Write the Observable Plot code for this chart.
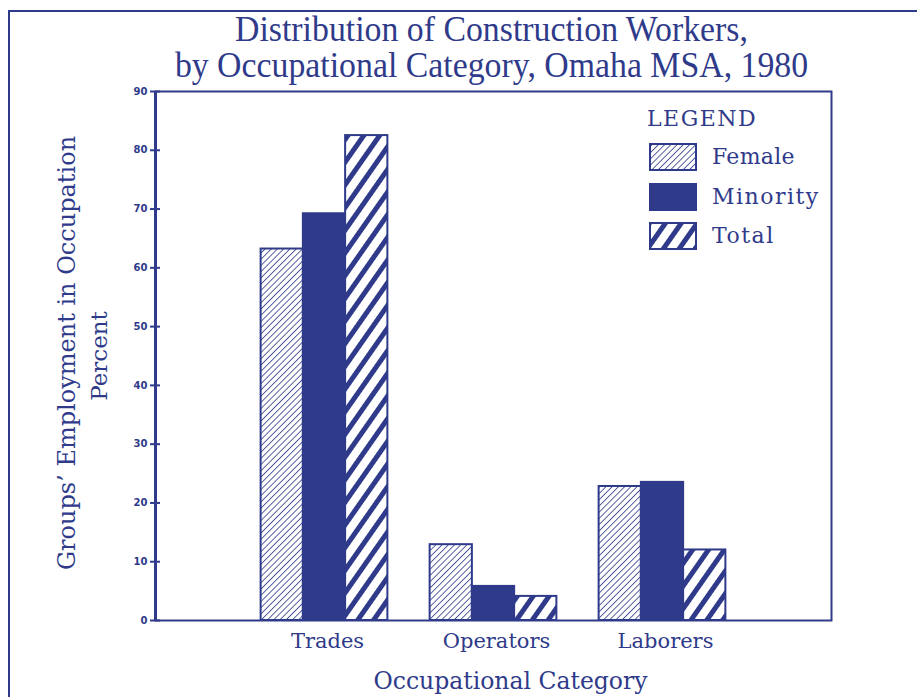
<!DOCTYPE html>
<html><head><meta charset="utf-8">
<script src="https://cdn.jsdelivr.net/npm/d3@7"></script>
<script src="https://cdn.jsdelivr.net/npm/@observablehq/plot@0.6"></script>
<style>
html,body{margin:0;padding:0;background:#fff;}
#page{position:relative;width:917px;height:697px;overflow:hidden;font-family:"DejaVu Serif",serif;color:#2f3b8a;}
#border{position:absolute;left:8px;top:10px;width:940px;height:720px;border-left:2px solid #2f3b8a;border-top:2px solid #2f3b8a;}
.title{position:absolute;left:33px;top:12px;width:917px;text-align:center;font-family:"Liberation Serif",serif;font-size:33.8px;line-height:35px;white-space:nowrap;transform:scaleY(1.05);}
#chart{position:absolute;left:0;top:84px;}
#legend{position:absolute;left:0;top:0;}
.lg{position:absolute;white-space:nowrap;font-size:22px;line-height:24px;letter-spacing:1.5px;}
.sw{position:absolute;}
#defs{position:absolute;width:0;height:0;}
</style></head>
<body>
<div id="page">
<svg id="defs" width="0" height="0">
 <defs>
  <pattern id="hatchFemale" patternUnits="userSpaceOnUse" width="4.4" height="4.4" patternTransform="rotate(45)">
   <rect width="4.4" height="4.4" fill="#fff"/>
   <line x1="0" y1="0" x2="0" y2="4.4" stroke="#2f3b8a" stroke-width="1.6"/>
  </pattern>
  <pattern id="hatchTotal" patternUnits="userSpaceOnUse" width="13" height="13" patternTransform="rotate(35)">
   <rect width="13" height="13" fill="#fff"/>
   <line x1="2.5" y1="0" x2="2.5" y2="13" stroke="#2f3b8a" stroke-width="5"/>
  </pattern>
 </defs>
</svg>
<div id="border"></div>
<div class="title">Distribution of Construction Workers,<br>by Occupational Category, Omaha MSA, 1980</div>
<div id="chart"></div>
<div id="legend"></div>
</div>
<script>
const NAVY = "#2f3b8a";
const categories = ["Trades", "Operators", "Laborers"];
const seriesNames = ["Female", "Minority", "Total"];
const female = [63.2, 12.9, 22.8];
const minority = [69.2, 5.8, 23.5];
const total = [82.5, 4.1, 12.0];
const yTicks = [0, 10, 20, 30, 40, 50, 60, 70, 80, 90];
const fills = {Female: "url(#hatchFemale)", Minority: NAVY, Total: "url(#hatchTotal)"};

const seriesValues = [female, minority, total];
const rows = [];
categories.forEach((c, i) => {
  seriesValues.forEach((arr, s) => {
    rows.push({category: c, ci: i + 1, series: seriesNames[s], si: s, value: arr[i]});
  });
});

const groupWidth = 0.75;
const barW = groupWidth / seriesNames.length;

const barMarks = seriesNames.map(name =>
  Plot.rectY(rows.filter(d => d.series === name), {
    x1: d => d.ci - groupWidth / 2 + d.si * barW,
    x2: d => d.ci - groupWidth / 2 + (d.si + 1) * barW,
    y1: 0,
    y2: "value",
    fill: fills[name],
    stroke: NAVY,
    strokeWidth: 2
  })
);

const chart = Plot.plot({
  width: 917,
  height: 613,
  marginTop: 7,
  marginBottom: 77,
  marginLeft: 155,
  marginRight: 86,
  x: {type: "linear", domain: [0, categories.length + 1]},
  y: {domain: [0, 90]},
  style: {color: NAVY, background: "transparent", fontFamily: "DejaVu Serif"},
  marks: [
    ...barMarks,
    Plot.frame({stroke: NAVY, strokeWidth: 2}),
    Plot.ruleX([0], {stroke: NAVY, strokeWidth: 3}),
    Plot.axisY({ticks: yTicks, tickSize: 5, tickPadding: 3, fontSize: 10, fontWeight: "bold", fontFamily: "DejaVu Sans", label: null, strokeWidth: 2}),
    Plot.axisY({ticks: yTicks, tickSize: -5, text: null, tickFormat: null, label: null, strokeWidth: 2}),
    Plot.axisX({ticks: categories.map((c, i) => i + 1), tickFormat: v => categories[v - 1], tickSize: 0, tickPadding: 13, fontSize: 21, dx: 3, label: null}),
    Plot.text(["Occupational Category"], {text: d => d, frameAnchor: "bottom", textAnchor: "middle", dx: 17, dy: 68, fontSize: 23.5, letterSpacing: 0.5}),
    Plot.text(["Groups\u2019 Employment in Occupation"], {text: d => d, frameAnchor: "left", textAnchor: "middle", rotate: -90, dx: -88, dy: -3, fontSize: 24, letterSpacing: 0.3}),
    Plot.text(["Percent"], {text: d => d, frameAnchor: "left", textAnchor: "middle", rotate: -90, dx: -56, fontSize: 23})
  ]
});
document.getElementById("chart").appendChild(chart);

// Legend
const legend = document.getElementById("legend");
const head = document.createElement("div");
head.className = "lg";
head.style.left = "647px"; head.style.top = "107px";
head.textContent = "LEGEND";
legend.appendChild(head);
seriesNames.forEach((name, i) => {
  const top = 143 + i * 39.5;
  const sw = document.createElementNS("http://www.w3.org/2000/svg", "svg");
  sw.setAttribute("class", "sw");
  sw.setAttribute("width", 50); sw.setAttribute("height", 31);
  sw.style.left = "648px"; sw.style.top = (top - 1) + "px";
  const r = document.createElementNS("http://www.w3.org/2000/svg", "rect");
  r.setAttribute("x", 2); r.setAttribute("y", 2); r.setAttribute("width", 46); r.setAttribute("height", 26);
  r.setAttribute("fill", fills[name]); r.setAttribute("stroke", NAVY); r.setAttribute("stroke-width", 2);
  sw.appendChild(r);
  legend.appendChild(sw);
  const lab = document.createElement("div");
  lab.className = "lg";
  lab.style.left = "712px"; lab.style.top = (top + 2) + "px";
  if (name === "Female") lab.style.letterSpacing = "0.3px";
  lab.textContent = name;
  legend.appendChild(lab);
});
</script>
</body></html>
